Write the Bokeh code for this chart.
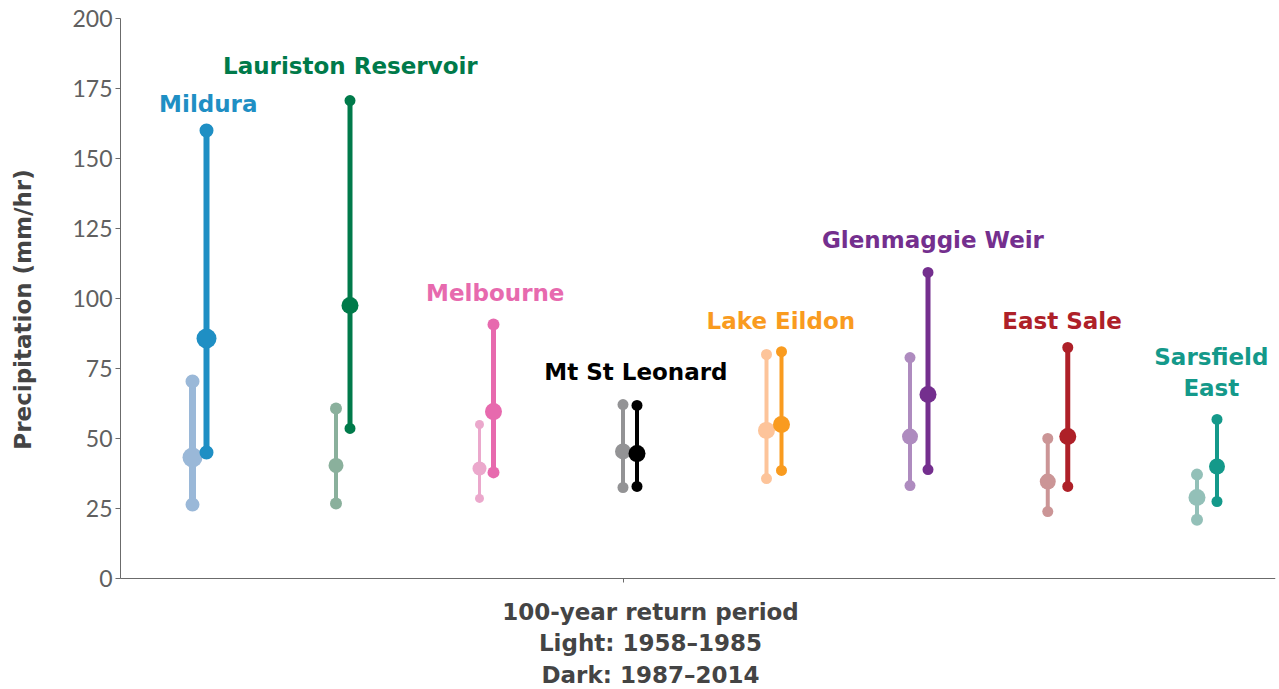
from math import pi
from bokeh.plotting import figure
from bokeh.models import ColumnDataSource, Range1d, FixedTicker, LinearAxis
from bokeh.core.properties import value
from bokeh.embed import file_html
from bokeh.resources import INLINE

# ---- data ----
stations = ["Mildura", "Lauriston Reservoir", "Melbourne", "Mt St Leonard",
            "Lake Eildon", "Glenmaggie Weir", "East Sale", "Sarsfield\nEast"]
light_low = [26.4, 26.8, 28.6, 32.5, 35.7, 33.2, 23.9, 21.0]
light_mid = [43.2, 40.4, 39.3, 45.4, 52.9, 50.7, 34.6, 28.9]
light_high = [70.4, 60.7, 55.0, 62.1, 80.0, 78.9, 50.0, 37.1]
dark_low = [45.0, 53.6, 37.9, 32.9, 38.6, 38.9, 32.9, 27.5]
dark_mid = [85.7, 97.5, 59.6, 44.6, 55.0, 65.7, 50.7, 40.0]
dark_high = [160.0, 170.7, 90.7, 61.8, 81.0, 109.3, 82.5, 56.8]
y_ticks = [0, 25, 50, 75, 100, 125, 150, 175, 200]
y_title = "Precipitation (mm/hr)"
x_title = ["100-year return period", "Light: 1958\u20131985", "Dark: 1987\u20132014"]

# ---- styles ----
light_colors = ["#9ab8d8", "#8ab09c", "#eba8cc", "#939395", "#fdc49a", "#ae8bbf", "#cb9596", "#93c0b8"]
dark_colors = ["#1f8fc4", "#007a4a", "#e76aae", "#000000", "#f99b1f", "#742f8e", "#ae2028", "#14998a"]
light_w = [7, 4, 3, 4, 4, 4, 4, 4]
dark_w = [6, 5, 5, 4, 4, 5, 5, 4]
light_end = [14, 12, 9, 11, 11, 11, 11, 12]
dark_end = [14, 11, 12, 11, 11, 11, 11, 11]
light_mid_s = [20, 15, 14, 16, 17, 16, 16, 17]
dark_mid_s = [20, 17, 17, 17, 17, 17, 17, 16]
px = 143.5                      # pixels per station
py = 2.8                        # pixels per mm/hr
light_off = [0, 0, 0, 0, 0, 0, -0.04, 0]
gap = [14 / px, 14 / px, 14 / px, 14 / px, 15 / px, 18 / px, 20 / px, 20 / px]
lab_dx = [0.11, 0.10, 0.11, 0.09, 0.10, 0.16, 0.10, 0.10]
lab_y = [169.6, 182.9, 101.8, 73.6, 91.8, 121.0, 91.8, 73.6]
title_x = 1 + (650 - 192) / px
title_y = [-11.8, -23.2, -34.6]
ytitle_x = 1 - (192 - 22) / px
ytitle_y = (578 - 309) / py

n = len(stations)
lx = [i + 1 + light_off[i] for i in range(n)]
dx = [lx[i] + gap[i] for i in range(n)]

x0 = 1 - 192 / px          # left edge of figure
x1 = x0 + 1275 / px
xaxis_pos = 1 - 72 / px    # where the y axis sits
y0 = 200 - 560 / py - 111 / py
y1 = 200 + 18 / py

p = figure(width=1279, height=689, x_range=Range1d(x0, x1), y_range=Range1d(y0, y1),
           output_backend="svg", toolbar_location=None,
           x_axis_location=None, y_axis_location=None,
           min_border_left=0, min_border_right=4, min_border_top=0, min_border_bottom=0)
p.outline_line_color = None
p.xgrid.visible = False
p.ygrid.visible = False

axis_col = "#6b6b6b"
ya = LinearAxis(fixed_location=xaxis_pos, ticker=FixedTicker(ticks=y_ticks), bounds=(0, 200))
ya.axis_line_color = axis_col
ya.major_tick_line_color = axis_col
ya.major_tick_out = 5
ya.major_tick_in = 0
ya.minor_tick_line_color = None
ya.major_label_text_font = "Lato"
ya.major_label_text_font_size = "23px"
ya.major_label_text_color = "#606060"
ya.major_label_standoff = 3
p.add_layout(ya, "left")

xa = LinearAxis(fixed_location=0, ticker=FixedTicker(ticks=[4]), bounds=(xaxis_pos, x1),
                major_label_overrides={4: ""})
xa.axis_line_color = axis_col
xa.major_tick_line_color = axis_col
xa.major_tick_out = 4
xa.major_tick_in = 0
xa.minor_tick_line_color = None
p.add_layout(xa, "below")

for xs, lo, mid, hi, cols, w, es, ms in [
    (lx, light_low, light_mid, light_high, light_colors, light_w, light_end, light_mid_s),
    (dx, dark_low, dark_mid, dark_high, dark_colors, dark_w, dark_end, dark_mid_s),
]:
    src = ColumnDataSource(dict(x=xs, lo=lo, mid=mid, hi=hi, c=cols, w=w, es=es, ms=ms))
    p.segment(x0="x", y0="lo", x1="x", y1="hi", line_color="c", line_width="w", source=src)
    p.scatter(x="x", y="lo", size="es", fill_color="c", line_color=None, source=src)
    p.scatter(x="x", y="hi", size="es", fill_color="c", line_color=None, source=src)
    p.scatter(x="x", y="mid", size="ms", fill_color="c", line_color=None, source=src)

lab_src = ColumnDataSource(dict(x=[lx[i] + lab_dx[i] for i in range(n)], y=lab_y,
                                t=stations, c=dark_colors))
p.text(x="x", y="y", text="t", text_color="c", source=lab_src,
       text_font=value("DejaVu Sans"), text_font_style="bold", text_font_size="23px",
       text_align="center", text_baseline="middle", text_line_height=1.2)

t_src = ColumnDataSource(dict(x=[title_x] * len(x_title), y=title_y, t=x_title))
p.text(x="x", y="y", text="t", text_color="#444444", source=t_src,
       text_font=value("DejaVu Sans"), text_font_style="bold", text_font_size="23px",
       text_align="center", text_baseline="middle")

p.text(x=[ytitle_x], y=[ytitle_y], text=[y_title], angle=pi / 2, text_color="#444444",
       text_font=value("DejaVu Sans"), text_font_style="bold", text_font_size="23px",
       text_align="center", text_baseline="middle")

open("out.html", "w").write(file_html(p, INLINE))
